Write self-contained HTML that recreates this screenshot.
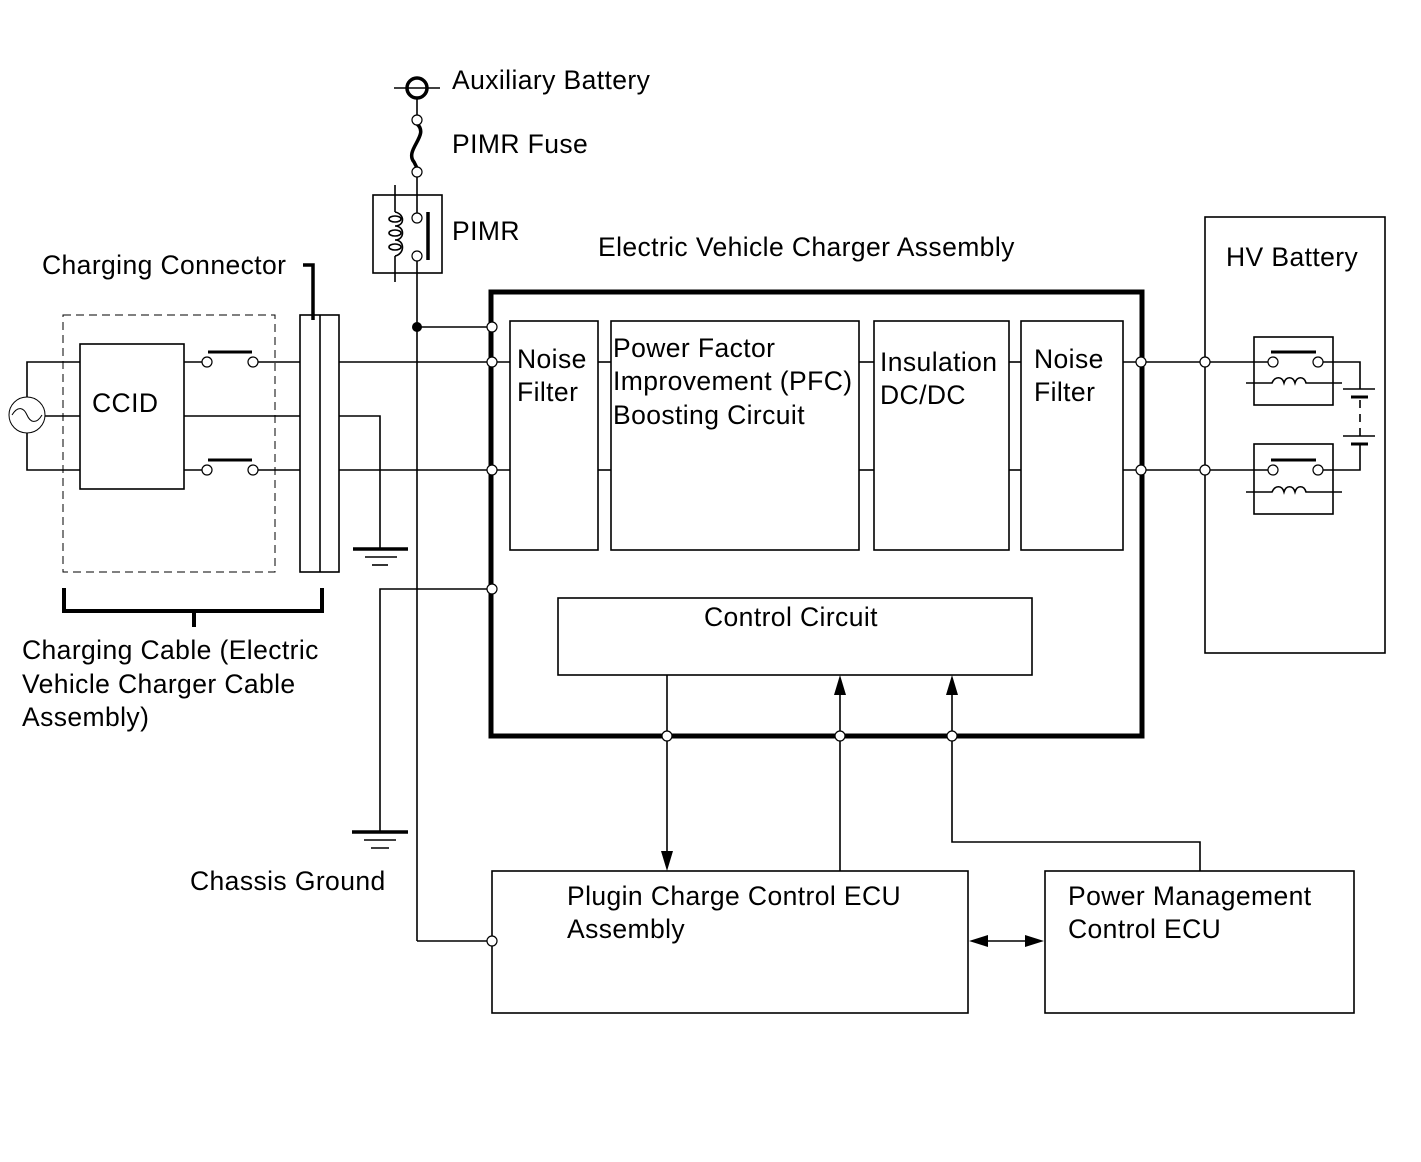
<!DOCTYPE html>
<html><head><meta charset="utf-8"><style>
html,body{margin:0;padding:0;background:#fff}
svg text{font-family:"Liberation Sans",sans-serif;font-size:26.5px;letter-spacing:0.4px;fill:#000}
</style></head><body>
<svg width="1421" height="1157" viewBox="0 0 1421 1157" xmlns="http://www.w3.org/2000/svg">
<g fill="none" stroke="#000" stroke-width="1.6">
<circle cx="417" cy="88" r="10" stroke-width="3.5"/>
<line x1="394" y1="88" x2="440" y2="88"/>
<line x1="417" y1="98" x2="417" y2="116"/>
<path d="M417 124 C430 135,404 150,414 162 L417 168" stroke-width="3.5"/>
<line x1="417" y1="176" x2="417" y2="214"/>
<rect x="373" y="195" width="69" height="78"/>
<line x1="395" y1="185" x2="395" y2="212"/><line x1="395" y1="256" x2="395" y2="282"/>
<path d="M395 212 C405 214,405 226,395 226 M395 226 C405 226,405 240,395 240 M395 240 C405 240,405 254,395 256"/>
<ellipse cx="395" cy="219" rx="6" ry="3"/><ellipse cx="395" cy="233" rx="6" ry="3"/><ellipse cx="395" cy="247" rx="6" ry="3"/>
<line x1="428" y1="212" x2="428" y2="260" stroke-width="3.5"/>
<line x1="417" y1="261" x2="417" y2="941"/>
<line x1="417" y1="327" x2="492" y2="327"/>
<rect x="491" y="292" width="651" height="444" stroke-width="5"/>
<rect x="510" y="321" width="88" height="229"/>
<rect x="611" y="321" width="248" height="229"/>
<rect x="874" y="321" width="135" height="229"/>
<rect x="1021" y="321" width="102" height="229"/>
<rect x="558" y="598" width="474" height="77"/>
<line x1="339" y1="362" x2="510" y2="362"/><line x1="339" y1="470" x2="510" y2="470"/>
<line x1="598" y1="362" x2="611" y2="362"/><line x1="598" y1="470" x2="611" y2="470"/>
<line x1="859" y1="362" x2="874" y2="362"/><line x1="859" y1="470" x2="874" y2="470"/>
<line x1="1009" y1="362" x2="1021" y2="362"/><line x1="1009" y1="470" x2="1021" y2="470"/>
<line x1="1123" y1="362" x2="1273" y2="362"/><line x1="1123" y1="470" x2="1273" y2="470"/>
<polyline points="492,589 380,589 380,832"/>
<line x1="352" y1="832" x2="408" y2="832" stroke-width="3.5"/>
<line x1="364" y1="840" x2="396" y2="840"/><line x1="371" y1="848" x2="389" y2="848"/>
<line x1="667" y1="675" x2="667" y2="855"/>
<line x1="840" y1="871" x2="840" y2="690"/>
<polyline points="952,690 952,842 1200,842 1200,871"/>
<rect x="492" y="871" width="476" height="142"/>
<rect x="1045" y="871" width="309" height="142"/>
<line x1="417" y1="941" x2="492" y2="941"/>
<line x1="985" y1="941" x2="1030" y2="941"/>
<circle cx="27" cy="415" r="18" stroke-width="1"/>
<path d="M12 415 C18 405,24 408,27 415 C30 422,36 425,42 415" stroke-width="1"/>
<polyline points="27,397 27,362 80,362"/><polyline points="27,433 27,470 80,470"/>
<line x1="45" y1="416" x2="80" y2="416"/>
<rect x="63" y="315" width="212" height="257" stroke-dasharray="8,5" stroke-width="1"/>
<rect x="80" y="344" width="104" height="145"/>
<line x1="184" y1="362" x2="202" y2="362"/><line x1="258" y1="362" x2="300" y2="362"/>
<line x1="184" y1="470" x2="202" y2="470"/><line x1="258" y1="470" x2="300" y2="470"/>
<line x1="208" y1="352" x2="252" y2="352" stroke-width="3"/><line x1="208" y1="460" x2="252" y2="460" stroke-width="3"/>
<line x1="184" y1="416" x2="300" y2="416"/>
<rect x="300" y="315" width="39" height="257"/><line x1="320" y1="315" x2="320" y2="572"/>
<polyline points="303,265 313,265 313,320" stroke-width="3.5"/>
<polyline points="339,416 380,416 380,549"/>
<line x1="353" y1="549" x2="408" y2="549" stroke-width="3.5"/>
<line x1="365" y1="557" x2="397" y2="557"/><line x1="372" y1="565" x2="388" y2="565"/>
<polyline points="64,588 64,611 322,611 322,588" stroke-width="4"/>
<line x1="194" y1="611" x2="194" y2="627" stroke-width="4"/>
<rect x="1205" y="217" width="180" height="436"/>
<rect x="1254" y="337" width="79" height="68"/><rect x="1254" y="444" width="79" height="70"/>
<line x1="1271" y1="352" x2="1316" y2="352" stroke-width="3"/><line x1="1271" y1="460" x2="1316" y2="460" stroke-width="3"/>
<path d="M1246 383 L1272 383 C1275 376,1282 376,1284 383 C1286 376,1293 376,1295 383 C1297 376,1304 376,1306 383 L1342 383"/>
<path d="M1246 492 L1272 492 C1275 485,1282 485,1284 492 C1286 485,1293 485,1295 492 C1297 485,1304 485,1306 492 L1342 492"/>
<polyline points="1322,362 1360,362 1360,389"/>
<line x1="1343" y1="389" x2="1375" y2="389"/><line x1="1351" y1="397" x2="1368" y2="397" stroke-width="3"/>
<line x1="1360" y1="400" x2="1360" y2="436" stroke-dasharray="8,6"/>
<line x1="1343" y1="436" x2="1375" y2="436"/><line x1="1351" y1="444" x2="1368" y2="444" stroke-width="3"/>
<polyline points="1360,444 1360,470 1322,470"/>
</g>
<g fill="#fff" stroke="#000" stroke-width="1.2">
<circle cx="417" cy="120" r="5"/><circle cx="417" cy="172" r="5"/>
<circle cx="417" cy="218" r="5"/><circle cx="417" cy="256" r="5"/>
<circle cx="492" cy="327" r="5"/><circle cx="492" cy="362" r="5"/><circle cx="492" cy="470" r="5"/><circle cx="492" cy="589" r="5"/>
<circle cx="1141" cy="362" r="5"/><circle cx="1141" cy="470" r="5"/>
<circle cx="1205" cy="362" r="5"/><circle cx="1205" cy="470" r="5"/>
<circle cx="1273" cy="362" r="5"/><circle cx="1318" cy="362" r="5"/>
<circle cx="1273" cy="470" r="5"/><circle cx="1318" cy="470" r="5"/>
<circle cx="207" cy="362" r="5"/><circle cx="253" cy="362" r="5"/>
<circle cx="207" cy="470" r="5"/><circle cx="253" cy="470" r="5"/>
<circle cx="667" cy="736" r="5"/><circle cx="840" cy="736" r="5"/><circle cx="952" cy="736" r="5"/>
<circle cx="492" cy="941" r="5"/>
</g>
<circle cx="417" cy="327" r="5" fill="#000"/>
<g fill="#000">
<polygon points="661,851 673,851 667,871"/>
<polygon points="834,695 846,695 840,675"/>
<polygon points="946,695 958,695 952,675"/>
<polygon points="988,935 988,947 969,941"/>
<polygon points="1025,935 1025,947 1044,941"/>
</g>
<text x="452" y="89">Auxiliary Battery</text>
<text x="452" y="153">PIMR Fuse</text>
<text x="452" y="240">PIMR</text>
<text x="598" y="256">Electric Vehicle Charger Assembly</text>
<text x="1226" y="266">HV Battery</text>
<text x="42" y="274">Charging Connector</text>
<text x="92" y="412">CCID</text>
<text x="517" y="368">Noise</text><text x="517" y="401">Filter</text>
<text x="613" y="357">Power Factor</text><text x="613" y="390">Improvement (PFC)</text><text x="613" y="424">Boosting Circuit</text>
<text x="880" y="371">Insulation</text><text x="880" y="404">DC/DC</text>
<text x="1034" y="368">Noise</text><text x="1034" y="401">Filter</text>
<text x="704" y="626">Control Circuit</text>
<text x="22" y="659">Charging Cable (Electric</text><text x="22" y="693">Vehicle Charger Cable</text><text x="22" y="726">Assembly)</text>
<text x="190" y="890">Chassis Ground</text>
<text x="567" y="905">Plugin Charge Control ECU</text><text x="567" y="938">Assembly</text>
<text x="1068" y="905">Power Management</text><text x="1068" y="938">Control ECU</text>
</svg>
</body></html>
